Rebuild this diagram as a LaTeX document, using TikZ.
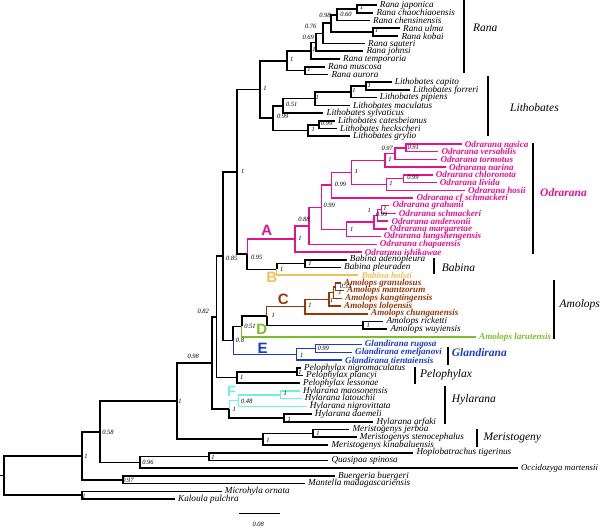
\documentclass[tikz,border=0pt]{standalone}
\usepackage{fontspec}
\setmainfont{Liberation Serif}
\newfontfamily\lsans{Liberation Sans}
\usetikzlibrary{calc}
\definecolor{cmag}{RGB}{226,20,140}
\definecolor{cyel}{RGB}{240,192,90}
\definecolor{cbrn}{RGB}{150,55,10}
\definecolor{cgrn}{RGB}{120,190,40}
\definecolor{cblu}{RGB}{25,60,200}
\definecolor{ccya}{RGB}{110,240,230}
\tikzset{
 br/.style={line width=1.7pt, line join=miter},
 cbr/.style={line width=1.5pt, line join=miter},
 leaf/.style={anchor=west, inner sep=0pt, xshift=3pt, font=\fontsize{9.2}{9.2}\selectfont\itshape},
 sleaf/.style={anchor=west, inner sep=0pt, xshift=2.5pt, font=\fontsize{8.8}{8.8}\selectfont\itshape},
 bleaf/.style={anchor=west, inner sep=0pt, xshift=3pt, font=\fontsize{9.1}{9.1}\selectfont\bfseries\itshape},
 sup/.style={inner sep=0pt, font=\fontsize{6.5}{6.5}\selectfont\itshape},
 clade/.style={anchor=west, inner sep=0pt, font=\fontsize{11.5}{11.5}\selectfont\itshape},
 bclade/.style={anchor=west, inner sep=0pt, font=\fontsize{11.5}{11.5}\selectfont\bfseries\itshape},
 letter/.style={inner sep=0pt, font=\lsans\bfseries\fontsize{15}{15}\selectfont},
 bracket/.style={line width=1.7pt},
}
\newcommand\mkleaf[5]{\coordinate (#1) at (#3,{5+7.72*#2}); \node[#5] (#1l) at (#1) {#4};}
\newcommand\mknode[4]{\coordinate (#1m) at ($(#3)!0.5!(#4)$); \coordinate (#1) at (perpendicular cs: horizontal line through={(#1m)}, vertical line through={(#2,0)});}
\newcommand\mkedge[3][br]{\draw[#1] (#2) |- (#3);}
\begin{document}
\begin{tikzpicture}[x=1pt,y=-1pt]
\useasboundingbox (0,0) rectangle (600,528);
% leaves
\mkleaf{t0}{0}{376.7}{Rana japonica}{leaf}
\mkleaf{t1}{1}{373.3}{Rana chaochiaoensis}{leaf}
\mkleaf{t2}{2}{370}{Rana chensinensis}{leaf}
\mkleaf{t3}{3}{400}{Rana ulma}{leaf}
\mkleaf{t4}{4}{398.3}{Rana kobai}{leaf}
\mkleaf{t5}{5}{365}{Rana sauteri}{leaf}
\mkleaf{t6}{6}{363.3}{Rana johnsi}{leaf}
\mkleaf{t7}{7}{340}{Rana temporaria}{leaf}
\mkleaf{t8}{8}{325}{Rana muscosa}{leaf}
\mkleaf{t9}{9}{328.3}{Rana aurora}{leaf}
\mkleaf{t10}{10}{391.7}{Lithobates capito}{leaf}
\mkleaf{t11}{11}{410}{Lithobates forreri}{leaf}
\mkleaf{t12}{12}{376.7}{Lithobates pipiens}{leaf}
\mkleaf{t13}{13}{350}{Lithobates maculatus}{leaf}
\mkleaf{t14}{14}{323.3}{Lithobates sylvaticus}{leaf}
\mkleaf{t15}{15}{335}{Lithobates catesbeianus}{leaf}
\mkleaf{t16}{16}{337}{Lithobates heckscheri}{leaf}
\mkleaf{t17}{17}{350}{Lithobates grylio}{leaf}
\mkleaf{t18}{18}{461.7}{Odrarana nasica}{bleaf,cmag}
\mkleaf{t19}{19}{438.3}{Odrarana versabilis}{bleaf,cmag}
\mkleaf{t20}{20}{437.3}{Odrarana tormotus}{bleaf,cmag}
\mkleaf{t21}{21}{446}{Odrarana narina}{bleaf,cmag}
\mkleaf{t22}{22}{432.7}{Odrarana chloronota}{bleaf,cmag}
\mkleaf{t23}{23}{436.7}{Odrarana livida}{bleaf,cmag}
\mkleaf{t24}{24}{465}{Odrarana hosii}{bleaf,cmag}
\mkleaf{t25}{25}{413.3}{Odrarana cf schmackeri}{bleaf,cmag}
\mkleaf{t26}{26}{389.3}{Odrarana grahami}{bleaf,cmag}
\mkleaf{t27}{27}{395.7}{Odrarana schmackeri}{bleaf,cmag}
\mkleaf{t28}{28}{388.3}{Odrarana andersonii}{bleaf,cmag}
\mkleaf{t29}{29}{386.7}{Odrarana margaretae}{bleaf,cmag}
\mkleaf{t30}{30}{380.7}{Odrarana lungshengensis}{bleaf,cmag}
\mkleaf{t31}{31}{376.7}{Odrarana chapaensis}{bleaf,cmag}
\mkleaf{t32}{32}{361.7}{Odrarana ishikawae}{bleaf,cmag}
\mkleaf{t33}{33}{346.7}{Babina adenopleura}{leaf}
\mkleaf{t34}{34}{341}{Babina pleuraden}{leaf}
\mkleaf{t35}{35}{358.3}{Babina holsti}{bleaf,cyel}
\mkleaf{t36}{36}{341}{Amolops granulosus}{bleaf,cbrn}
\mkleaf{t37}{37}{344}{Amolops mantzorum}{bleaf,cbrn}
\mkleaf{t38}{38}{342}{Amolops kangtingensis}{bleaf,cbrn}
\mkleaf{t39}{39}{341}{Amolops loloensis}{bleaf,cbrn}
\mkleaf{t40}{40}{368}{Amolops chunganensis}{bleaf,cbrn}
\mkleaf{t41}{41}{383.3}{Amolops ricketti}{leaf}
\mkleaf{t42}{42}{387.3}{Amolops wuyiensis}{leaf}
\mkleaf{t43}{43}{476}{Amolops larutensis}{bleaf,cgrn}
\mkleaf{t44}{44}{361.7}{Glandirana rugosa}{bleaf,cblu}
\mkleaf{t45}{45}{352}{Glandirana emeljanovi}{bleaf,cblu}
\mkleaf{t46}{46}{342}{Glandirana tientaiensis}{bleaf,cblu}
\mkleaf{t47}{47}{301}{Pelophylax nigromaculatus}{leaf}
\mkleaf{t48}{48}{303}{Pelophylax plancyi}{leaf}
\mkleaf{t49}{49}{300}{Pelophylax lessonae}{leaf}
\mkleaf{t50}{50}{300}{Hylarana maosonensis}{leaf}
\mkleaf{t51}{51}{301.7}{Hylarana latouchii}{leaf}
\mkleaf{t52}{52}{306.7}{Hylarana nigrovittata}{leaf}
\mkleaf{t53}{53}{311.7}{Hylarana daemeli}{leaf}
\mkleaf{t54}{54}{373.3}{Hylarana arfaki}{leaf}
\mkleaf{t55}{55}{349.3}{Meristogenys jerboa}{leaf}
\mkleaf{t56}{56}{356.7}{Meristogenys stenocephalus}{leaf}
\mkleaf{t57}{57}{328.3}{Meristogenys kinabaluensis}{leaf}
\mkleaf{t58}{58}{413.3}{Hoplobatrachus tigerinus}{leaf}
\mkleaf{t59}{59}{328.3}{Quasipaa spinosa}{leaf}
\mkleaf{t60}{60}{518.3}{Occidozyga martensii}{sleaf}
\mkleaf{t61}{61}{335}{Buergeria buergeri}{leaf}
\mkleaf{t62}{62}{305}{Mantella madagascariensis}{leaf}
\mkleaf{t63}{63}{221.7}{Microhyla ornata}{leaf}
\mkleaf{t64}{64}{175}{Kaloula pulchra}{leaf}
% internal nodes
\mknode{a1}{356.7}{t0}{t1}
\mknode{a2}{336.7}{a1}{t2}
\mknode{a3}{372.7}{t3}{t4}
\mknode{a4}{331}{a2}{a3}
\mknode{a5}{322.7}{a4}{t5}
\mknode{a6}{316}{a5}{t6}
\mknode{a7}{310.7}{a6}{t7}
\mknode{a8}{305}{t8}{t9}
\mknode{a9}{287.3}{a7}{a8}
\mknode{b1}{365.7}{t10}{t11}
\mknode{b2}{350.7}{b1}{t12}
\mknode{b3}{315}{b2}{t13}
\mknode{b4}{283.3}{b3}{t14}
\mknode{b5}{319.3}{t15}{t16}
\mknode{b6}{308.3}{b5}{t17}
\mknode{b7}{273.3}{b4}{b6}
\mknode{c1}{260}{a9}{b7}
\mknode{d1}{406}{t18}{t19}
\mknode{d2}{395}{d1}{t20}
\mknode{d3}{385}{d2}{t21}
\mknode{d4}{403.3}{t22}{t23}
\mknode{d4b}{386.7}{d4}{t24}
\mknode{d5}{351.7}{d3}{d4b}
\mknode{d6}{331.7}{d5}{t25}
\mknode{e1}{381.7}{t26}{t27}
\mknode{e2}{377.7}{e1}{t28}
\mknode{e3}{374}{e2}{t29}
\mknode{e4}{346.7}{e3}{t30}
\mknode{e5}{321.7}{d6}{e4}
\mknode{e6}{309}{e5}{t31}
\mknode{e7}{295}{e6}{t32}
\mknode{f1}{305}{t33}{t34}
\mknode{f2}{276.7}{f1}{t35}
\mknode{X}{247.3}{e7}{f2}
\mknode{Y}{236.7}{c1}{X}
\mknode{g1}{335.7}{t36}{t37}
\mknode{g2}{333.3}{g1}{t38}
\mknode{g3}{329}{g2}{t39}
\mknode{g4}{305}{g3}{t40}
\mknode{g5}{363.3}{t41}{t42}
\mknode{g6}{266.7}{g4}{g5}
\mknode{g7}{241.7}{g6}{t43}
\mknode{h1}{315.7}{t44}{t45}
\mknode{h2}{296.7}{h1}{t46}
\mknode{Q}{233.3}{g7}{h2}
\mknode{P}{222.7}{Y}{Q}
\mknode{pe1}{297.3}{t47}{t48}
\mknode{pe2}{236.7}{pe1}{t49}
\mknode{U}{216.5}{P}{pe2}
\mknode{i1}{280.7}{t50}{t51}
\mknode{i2}{238.3}{i1}{t52}
\mknode{i3}{284}{t53}{t54}
\mknode{i4}{229.3}{i2}{i3}
\mknode{S}{212}{U}{i4}
\mknode{m1}{313.3}{t55}{t56}
\mknode{m2}{262.7}{m1}{t57}
\mknode{V}{176.7}{S}{m2}
\mknode{o1}{209}{t58}{t59}
\mknode{o2}{140}{o1}{t60}
\mknode{W}{100}{V}{o2}
\mknode{bm}{122.7}{t61}{t62}
\mknode{Z}{81.7}{W}{bm}
\mknode{mk}{81.7}{t63}{t64}
\mknode{R}{4.3}{Z}{mk}
\coordinate (root) at (perpendicular cs: horizontal line through={(R)}, vertical line through={(0,0)});
% black edges
\mkedge{a1}{t0}\mkedge{a1}{t1}\mkedge{a2}{a1}\mkedge{a2}{t2}
\mkedge{a3}{t3}\mkedge{a3}{t4}\mkedge{a4}{a2}\mkedge{a4}{a3}
\mkedge{a5}{a4}\mkedge{a5}{t5}\mkedge{a6}{a5}\mkedge{a6}{t6}
\mkedge{a7}{a6}\mkedge{a7}{t7}\mkedge{a8}{t8}\mkedge{a8}{t9}
\mkedge{a9}{a7}\mkedge{a9}{a8}
\mkedge{b1}{t10}\mkedge{b1}{t11}\mkedge{b2}{b1}\mkedge{b2}{t12}
\mkedge{b3}{b2}\mkedge{b3}{t13}\mkedge{b4}{b3}\mkedge{b4}{t14}
\mkedge{b5}{t15}\mkedge{b5}{t16}\mkedge{b6}{b5}\mkedge{b6}{t17}
\mkedge{b7}{b4}\mkedge{b7}{b6}\mkedge{c1}{a9}\mkedge{c1}{b7}
\mkedge{f1}{t33}\mkedge{f1}{t34}\mkedge{f2}{f1}\mkedge{X}{f2}
\mkedge{Y}{c1}\mkedge{Y}{X}
\mkedge{g5}{t41}\mkedge{g5}{t42}\mkedge{g6}{g5}\mkedge{g7}{g6}
\mkedge{Q}{g7}\mkedge{P}{Y}\mkedge{P}{Q}
\mkedge{pe1}{t47}\mkedge{pe1}{t48}\mkedge{pe2}{pe1}\mkedge{pe2}{t49}
\mkedge{U}{P}\mkedge{U}{pe2}
\mkedge{i3}{t53}\mkedge{i3}{t54}\mkedge{i4}{i3}
\mkedge{S}{U}\mkedge{S}{i4}
\mkedge{m1}{t55}\mkedge{m1}{t56}\mkedge{m2}{m1}\mkedge{m2}{t57}
\mkedge{V}{S}\mkedge{V}{m2}
\mkedge{o1}{t58}\mkedge{o1}{t59}\mkedge{o2}{o1}\mkedge{o2}{t60}
\mkedge{W}{V}\mkedge{W}{o2}
\mkedge{bm}{t61}\mkedge{bm}{t62}\mkedge{Z}{W}\mkedge{Z}{bm}
\mkedge{mk}{t63}\mkedge{mk}{t64}\mkedge{R}{Z}\mkedge{R}{mk}
\draw[br] (root) -- (R);
% coloured edges
\mkedge[cbr,cmag]{X}{e7}
\mkedge[cbr,cmag]{e7}{e6}\mkedge[cbr,cmag]{e7}{t32}
\mkedge[cbr,cmag]{e6}{e5}\mkedge[cbr,cmag]{e6}{t31}
\mkedge[cbr,cmag]{e5}{d6}\mkedge[cbr,cmag]{e5}{e4}
\mkedge[cbr,cmag]{d6}{d5}\mkedge[cbr,cmag]{d6}{t25}
\mkedge[cbr,cmag]{d5}{d3}\mkedge[cbr,cmag]{d5}{d4b}
\mkedge[cbr,cmag]{d3}{d2}\mkedge[cbr,cmag]{d3}{t21}
\mkedge[cbr,cmag]{d2}{d1}\mkedge[cbr,cmag]{d2}{t20}
\mkedge[cbr,cmag]{d1}{t18}\mkedge[cbr,cmag]{d1}{t19}
\mkedge[cbr,cmag]{d4b}{d4}\mkedge[cbr,cmag]{d4b}{t24}
\mkedge[cbr,cmag]{d4}{t22}\mkedge[cbr,cmag]{d4}{t23}
\mkedge[cbr,cmag]{e4}{e3}\mkedge[cbr,cmag]{e4}{t30}
\mkedge[cbr,cmag]{e3}{e2}\mkedge[cbr,cmag]{e3}{t29}
\mkedge[cbr,cmag]{e2}{e1}\mkedge[cbr,cmag]{e2}{t28}
\mkedge[cbr,cmag]{e1}{t26}\mkedge[cbr,cmag]{e1}{t27}
\mkedge[cbr,cyel]{f2}{t35}
\mkedge[cbr,cbrn]{g6}{g4}
\mkedge[cbr,cbrn]{g4}{g3}\mkedge[cbr,cbrn]{g4}{t40}
\mkedge[cbr,cbrn]{g3}{g2}\mkedge[cbr,cbrn]{g3}{t39}
\mkedge[cbr,cbrn]{g2}{g1}\mkedge[cbr,cbrn]{g2}{t38}
\mkedge[cbr,cbrn]{g1}{t36}\mkedge[cbr,cbrn]{g1}{t37}
\mkedge[cbr,cgrn]{g7}{t43}
\mkedge[cbr,cblu]{Q}{h2}
\mkedge[cbr,cblu]{h2}{h1}\mkedge[cbr,cblu]{h2}{t46}
\mkedge[cbr,cblu]{h1}{t44}\mkedge[cbr,cblu]{h1}{t45}
\mkedge[cbr,ccya]{i4}{i2}
\mkedge[cbr,ccya]{i2}{i1}\mkedge[cbr,ccya]{i2}{t52}
\mkedge[cbr,ccya]{i1}{t50}\mkedge[cbr,ccya]{i1}{t51}
% support values
\node[sup] (s1) at (361.5,7) {1};
\node[sup] (s2) at (346,14) {0.60};
\node[sup] (s3) at (325,15.5) {0.98};
\node[sup] (s4) at (376.7,30.5) {1};
\node[sup] (s5) at (310.7,26.5) {0.76};
\node[sup] (s6) at (308.3,37.5) {0.69};
\node[sup] (s7) at (314,49.5) {1};
\node[sup] (s8) at (309,69.5) {1};
\node[sup] (s9) at (291.7,59.5) {1};
\node[sup] (s10) at (265,88.5) {1};
\node[sup] (s11) at (369.3,85) {1};
\node[sup] (s12) at (354,90.3) {1};
\node[sup] (s13) at (317.3,97) {1};
\node[sup] (s14) at (291.7,104.3) {0.51};
\node[sup] (s15) at (326.7,123.5) {0.99};
\node[sup] (s16) at (313.3,129) {1};
\node[sup] (s17) at (282.7,116) {0.99};
\node[sup] (s18) at (413.3,147.5) {0.91};
\node[sup] (s19) at (387.3,148) {0.97};
\node[sup] (s20) at (390,159) {1};
\node[sup] (s21) at (413,177.3) {0.99};
\node[sup] (s22) at (391,183.5) {1};
\node[sup] (s23) at (356.5,171.7) {1};
\node[sup] (s24) at (340.5,184) {0.99};
\node[sup] (s25) at (385,208) {1};
\node[sup] (s26) at (381.7,214) {0.99};
\node[sup] (s27) at (369.3,210.7) {1};
\node[sup] (s28) at (351.7,229.7) {1};
\node[sup] (s29) at (329.3,205.7) {0.99};
\node[sup] (s30) at (304,219.7) {0.88};
\node[sup] (s31) at (300,238) {1};
\node[sup] (s32) at (256.7,257.5) {0.95};
\node[sup] (s33) at (242.7,171) {1};
\node[sup] (s34) at (231.7,258.5) {0.85};
\node[sup] (s35) at (310,263.3) {1};
\node[sup] (s36) at (281.7,269) {1};
\node[sup] (s37) at (345.5,286.5) {0.33};
\node[sup] (s38) at (340,292.3) {1};
\node[sup] (s39) at (331.7,300.5) {1};
\node[sup] (s40) at (310,305.5) {1};
\node[sup] (s41) at (368.3,325.5) {1};
\node[sup] (s42) at (273.3,315.5) {1};
\node[sup] (s43) at (250,326.5) {0.51};
\node[sup] (s44) at (323.3,348.8) {0.99};
\node[sup] (s45) at (301.7,355.5) {1};
\node[sup] (s46) at (240,340.5) {0.8};
\node[sup] (s47) at (203.3,311) {0.82};
\node[sup] (s48) at (193.3,356) {0.98};
\node[sup] (s49) at (300,372.5) {1};
\node[sup] (s50) at (241.7,377.7) {1};
\node[sup] (s51) at (285.3,393.7) {1};
\node[sup] (s52) at (246.7,401) {0.48};
\node[sup] (s53) at (289.3,419.3) {1};
\node[sup] (s54) at (234.3,409.5) {1};
\node[sup] (s55) at (180,401.7) {1};
\node[sup] (s56) at (318,433.3) {1};
\node[sup] (s57) at (268,440) {1};
\node[sup] (s58) at (108,432) {0.58};
\node[sup] (s59) at (213,457) {1};
\node[sup] (s60) at (148,462.7) {0.96};
\node[sup] (s61) at (86,456.7) {1};
\node[sup] (s62) at (128,480) {0.97};
\node[sup] (s63) at (84,496.7) {1};
% group letters
\node[letter,cmag] (LA) at (266.7,230) {A};
\node[letter,cyel] (LB) at (271.7,277) {B};
\node[letter,cbrn] (LC) at (283.3,299.5) {C};
\node[letter,cgrn] (LD) at (261.7,329.5) {D};
\node[letter,cblu] (LE) at (262.7,348.5) {E};
\node[letter,ccya] (LF) at (231.7,391.7) {F};
% clade brackets
\draw[bracket] (464.3,0) coordinate (k1a) -- (464.3,73) coordinate (k1b);
\node[clade] (cRana) at (473,27.5) {Rana};
\draw[bracket] (488.3,76) coordinate (k2a) -- (488.3,136) coordinate (k2b);
\node[clade] (cLith) at (510,108) {Lithobates};
\draw[bracket] (533,142.5) coordinate (k3a) -- (533,253.5) coordinate (k3b);
\node[bclade,cmag] (cOdr) at (540,192.5) {Odrarana};
\draw[bracket] (434,258) coordinate (k4a) -- (434,274) coordinate (k4b);
\node[clade] (cBab) at (441.7,267.5) {Babina};
\draw[bracket] (554.3,280) coordinate (k5a) -- (554.3,339) coordinate (k5b);
\node[clade] (cAmo) at (559.5,305) {Amolops};
\draw[bracket] (447.7,346.5) coordinate (k6a) -- (447.7,364.5) coordinate (k6b);
\node[bclade,cblu] (cGla) at (451.7,352.5) {Glandirana};
\draw[bracket] (415,366.5) coordinate (k7a) -- (415,383.5) coordinate (k7b);
\node[clade] (cPel) at (420,374.5) {Pelophylax};
\draw[bracket] (445,386) coordinate (k8a) -- (445,423.5) coordinate (k8b);
\node[clade] (cHyl) at (451.7,400) {Hylarana};
\draw[bracket] (477.3,428.5) coordinate (k9a) -- (477.3,447) coordinate (k9b);
\node[clade] (cMer) at (483.3,438) {Meristogeny};
% scale bar
\draw[line width=1pt] (239.3,513.3) coordinate (sb1) -- (280,513.3) coordinate (sb2);
\node[sup] (sbl) at (258.3,524) {0.08};
\end{tikzpicture}
\end{document}
